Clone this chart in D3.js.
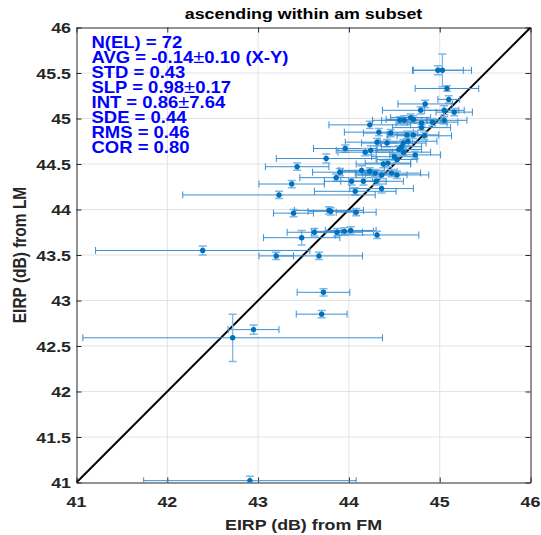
<!DOCTYPE html>
<html>
<head>
  <meta charset="UTF-8">
  <title>EIRP FM vs LM</title>
  <script src="https://cdnjs.cloudflare.com/ajax/libs/d3/7.8.5/d3.min.js"></script>
  <style>
    body { margin: 0; background: #fff; }
    text { font-family: "Liberation Sans", Arial, Helvetica, sans-serif; font-weight: bold; }
  </style>
</head>
<body>
<div id="chart"></div>
<script>
  // EIRP from FM (x) and from LM (y), with 1-sigma errors
  const fmVals = [44.98, 45.03, 45.08, 45.10, 44.84, 44.79, 45.16, 45.05, 45.05, 44.23,
                  44.56, 44.61, 44.68, 44.71, 44.80, 44.80, 44.33, 44.46, 44.64, 44.71,
                  44.83, 44.31, 44.42, 44.60, 44.65, 44.58, 43.96, 44.18, 44.24, 44.50,
                  44.60, 44.73, 43.75, 43.43, 44.38, 44.43, 44.53, 43.90, 43.86, 44.14,
                  44.23, 44.29, 44.36, 44.47, 44.53, 43.37, 44.03, 44.16, 44.30, 44.36,
                  44.07, 43.23, 43.39, 43.78, 43.80, 44.08, 43.48, 43.62, 43.87, 43.95,
                  44.02, 44.31, 42.39, 43.20, 43.67, 43.72, 43.70, 42.95, 42.72, 42.91,
                  44.92, 44.55];
  const lmVals = [45.53, 45.53, 45.33, 45.21, 45.16, 45.09, 45.07, 45.09, 44.98, 44.93,
                  44.98, 44.98, 45.01, 44.99, 44.95, 44.90, 44.85, 44.84, 44.82, 44.82,
                  44.81, 44.74, 44.73, 44.73, 44.75, 44.69, 44.67, 44.63, 44.65, 44.58,
                  44.63, 44.60, 44.56, 44.47, 44.50, 44.51, 44.55, 44.41, 44.35, 44.43,
                  44.42, 44.40, 44.38, 44.40, 44.38, 44.28, 44.31, 44.31, 44.31, 44.23,
                  44.20, 44.16, 43.96, 43.99, 43.98, 43.97, 43.69, 43.75, 43.75, 43.76,
                  43.77, 43.72, 43.55, 43.49, 43.49, 43.09, 42.85, 42.68, 42.59, 41.02,
                  44.96, 44.66];
  const fmErr = [0.28, 0.32, 0.35, 0.12, 0.30, 0.42, 0.20, 0.22, 0.25, 0.45,
                 0.30, 0.25, 0.22, 0.30, 0.28, 0.32, 0.38, 0.30, 0.22, 0.28,
                 0.30, 0.35, 0.28, 0.25, 0.32, 0.22, 0.35, 0.30, 0.38, 0.25,
                 0.30, 0.28, 0.55, 0.35, 0.30, 0.25, 0.22, 0.30, 0.40, 0.25,
                 0.30, 0.22, 0.28, 0.32, 0.35, 0.36, 0.30, 0.25, 0.30, 0.35,
                 0.45, 1.06, 0.22, 0.38, 0.25, 0.22, 0.42, 0.30, 0.28, 0.32,
                 0.28, 0.46, 1.18, 0.19, 0.48, 0.29, 0.28, 0.28, 1.65, 1.17,
                 0.28, 0.25];
  const lmErr = [0.05, 0.18, 0.03, 0.04, 0.04, 0.04, 0.04, 0.05, 0.04, 0.04,
                 0.04, 0.05, 0.04, 0.04, 0.04, 0.03, 0.04, 0.04, 0.04, 0.04,
                 0.04, 0.04, 0.04, 0.04, 0.05, 0.04, 0.04, 0.04, 0.05, 0.04,
                 0.04, 0.04, 0.05, 0.04, 0.04, 0.04, 0.04, 0.04, 0.04, 0.05,
                 0.04, 0.04, 0.04, 0.04, 0.04, 0.04, 0.04, 0.04, 0.04, 0.05,
                 0.04, 0.04, 0.04, 0.04, 0.04, 0.04, 0.08, 0.04, 0.04, 0.04,
                 0.04, 0.04, 0.05, 0.04, 0.04, 0.04, 0.04, 0.05, 0.26, 0.05,
                 0.04, 0.04];

  const xTicks = [41, 42, 43, 44, 45, 46];
  const yTicks = [41, 41.5, 42, 42.5, 43, 43.5, 44, 44.5, 45, 45.5, 46];

  const statLines = ["N(EL) = 72", "AVG = -0.14\u00b10.10 (X-Y)", "STD = 0.43", "SLP = 0.98\u00b10.17",
                     "INT = 0.86\u00b17.64", "SDE = 0.44", "RMS = 0.46", "COR = 0.80"];

  const points = fmVals.map((v, i) => ({x: v, y: lmVals[i], ex: fmErr[i], ey: lmErr[i]}));

  const W = 541, H = 535;
  const mLeft = 76.5, mRight = 530.5, mTop = 27.5, mBottom = 482.5;
  const stretch = 1.15;   // the reference text is a bit wide
  const axisColor = "#262626";
  const blue = "#0072BD";

  const svg = d3.select("#chart").append("svg")
    .attr("width", W)
    .attr("height", H);

  const x = d3.scaleLinear().domain([41, 46]).range([mLeft, mRight]);
  const y = d3.scaleLinear().domain([41, 46]).range([mBottom, mTop]);

  function label(g, px, py, str, anchor, rot) {
    const t = g.append("text")
      .attr("transform", rot
        ? `translate(${px},${py}) rotate(-90) scale(1,${stretch})`
        : `translate(${px},${py}) scale(${stretch},1)`)
      .attr("text-anchor", anchor)
      .attr("font-size", "15.5px")
      .attr("fill", axisColor);
    return t.text(str);
  }

  // grid
  svg.append("g").selectAll("line")
    .data(xTicks.slice(1, -1))
    .enter().append("line")
    .attr("x1", d => x(d)).attr("x2", d => x(d))
    .attr("y1", mTop).attr("y2", mBottom)
    .attr("stroke", "#e3e3e3").attr("stroke-width", 1);
  svg.append("g").selectAll("line")
    .data(yTicks.slice(1, -1))
    .enter().append("line")
    .attr("x1", mLeft).attr("x2", mRight)
    .attr("y1", d => y(d)).attr("y2", d => y(d))
    .attr("stroke", "#e3e3e3").attr("stroke-width", 1);

  // axes (ticks pointing inwards, box on)
  const tk = 5;
  svg.append("g").attr("transform", `translate(0,${mBottom})`)
    .call(d3.axisBottom(x).tickValues(xTicks).tickSizeInner(-tk).tickSizeOuter(0).tickFormat(""));
  svg.append("g").attr("transform", `translate(0,${mTop})`)
    .call(d3.axisTop(x).tickValues(xTicks).tickSizeInner(-tk).tickSizeOuter(0).tickFormat(""));
  svg.append("g").attr("transform", `translate(${mLeft},0)`)
    .call(d3.axisLeft(y).tickValues(yTicks).tickSizeInner(-tk).tickSizeOuter(0).tickFormat(""));
  svg.append("g").attr("transform", `translate(${mRight},0)`)
    .call(d3.axisRight(y).tickValues(yTicks).tickSizeInner(-tk).tickSizeOuter(0).tickFormat(""));
  svg.selectAll(".domain, .tick line").attr("stroke", axisColor).attr("stroke-width", 1);

  // tick labels
  const lab = svg.append("g");
  xTicks.forEach(v => label(lab, x(v), 507, d3.format("")(v), "middle"));
  yTicks.forEach(v => label(lab, 71, y(v) + 5.5, d3.format("")(v), "end"));

  label(lab, (mLeft + mRight) / 2, 530, "EIRP (dB) from FM", "middle");
  label(lab, 25.5, (mTop + mBottom) / 2, "EIRP (dB) from LM", "middle", true);
  label(lab, (mLeft + mRight) / 2, 19, "ascending within am subset", "middle").attr("fill", "#000");

  // plot area clip
  svg.append("clipPath").attr("id", "clip")
    .append("rect").attr("x", mLeft).attr("y", mTop)
    .attr("width", mRight - mLeft).attr("height", mBottom - mTop);

  const plot = svg.append("g").attr("clip-path", "url(#clip)");

  // one-to-one line
  plot.append("line")
    .attr("x1", x(41)).attr("y1", y(41))
    .attr("x2", x(46)).attr("y2", y(46))
    .attr("stroke", "#000").attr("stroke-width", 2);

  // error bars
  const cap = 3.5;
  const eb = plot.append("g").attr("fill", "none");
  points.forEach(p => {
    const g = eb.append("g");
    // horizontal
    g.append("line")
      .attr("x1", x(p.x - p.ex)).attr("x2", x(p.x + p.ex))
      .attr("y1", y(p.y)).attr("y2", y(p.y))
      .attr("stroke", "#3a8fd3").attr("stroke-width", 1);
    [p.x - p.ex, p.x + p.ex].forEach(v => {
      g.append("line")
        .attr("x1", x(v)).attr("x2", x(v))
        .attr("y1", y(p.y) - cap).attr("y2", y(p.y) + cap)
        .attr("stroke", "#3a8fd3").attr("stroke-width", 1);
    });
    // vertical
    g.append("line")
      .attr("x1", x(p.x)).attr("x2", x(p.x))
      .attr("y1", y(p.y - p.ey)).attr("y2", y(p.y + p.ey))
      .attr("stroke", "#7fb7e4").attr("stroke-width", 1.3);
    [p.y - p.ey, p.y + p.ey].forEach(v => {
      g.append("line")
        .attr("x1", x(p.x) - 4).attr("x2", x(p.x) + 4)
        .attr("y1", y(v)).attr("y2", y(v))
        .attr("stroke", "#7fb7e4").attr("stroke-width", 1.5);
    });
  });

  // markers
  plot.append("g").selectAll("circle")
    .data(points)
    .enter().append("circle")
    .attr("cx", d => x(d.x))
    .attr("cy", d => y(d.y))
    .attr("r", 2.7)
    .attr("fill", blue);

  // stats text
  const st = svg.append("g");
  statLines.forEach((s, i) => {
    const t = st.append("text")
      .attr("transform", `translate(91.5,${48 + i * 15}) scale(1.12,1)`)
      .attr("font-size", "16.5px")
      .attr("fill", "#0000ff");
    s.split("\u00b1").forEach((part, j) => {
      if (j > 0) t.append("tspan").attr("font-weight", "normal").attr("font-size", "18px").text("\u00b1");
      t.append("tspan").text(part);
    });
  });
</script>
</body>
</html>
